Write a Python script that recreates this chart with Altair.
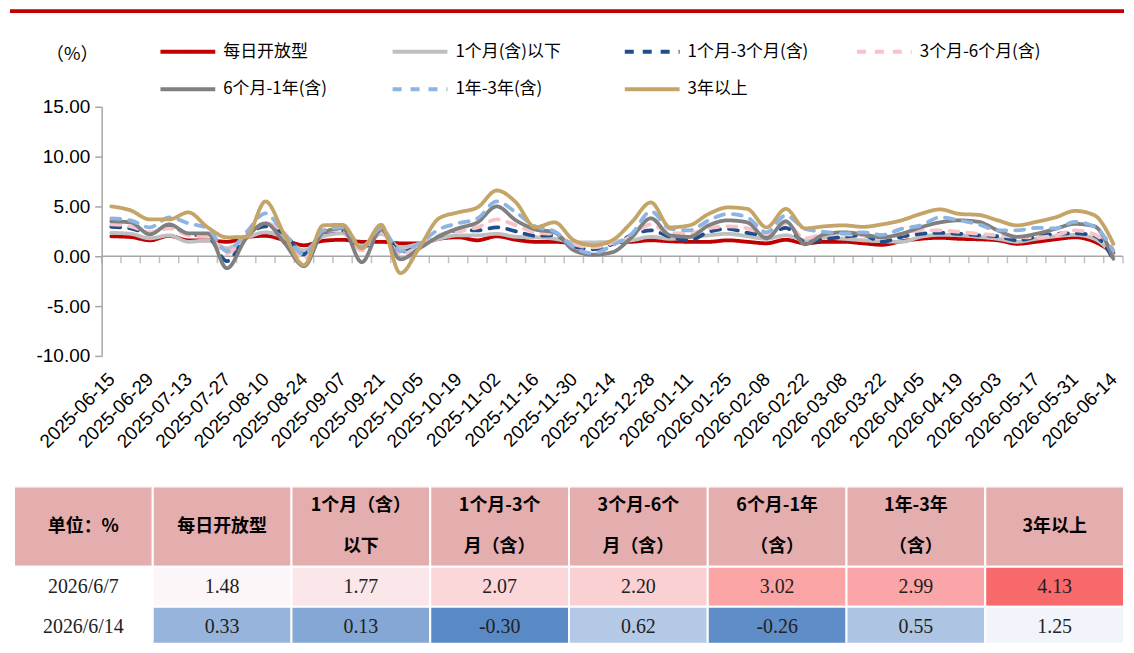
import json
import numpy as np
import pandas as pd
import altair as alt

# ---------------- data ----------------
dates = [
    "2025-06-15", "2025-06-22", "2025-06-29", "2025-07-06", "2025-07-13", "2025-07-20", "2025-07-27",
    "2025-08-03", "2025-08-10", "2025-08-17", "2025-08-24", "2025-08-31", "2025-09-07", "2025-09-14",
    "2025-09-21", "2025-09-28", "2025-10-05", "2025-10-12", "2025-10-19", "2025-10-26", "2025-11-02",
    "2025-11-09", "2025-11-16", "2025-11-23", "2025-11-30", "2025-12-07", "2025-12-14", "2025-12-21",
    "2025-12-28", "2026-01-04", "2026-01-11", "2026-01-18", "2026-01-25", "2026-02-01", "2026-02-08",
    "2026-02-15", "2026-02-22", "2026-03-01", "2026-03-08", "2026-03-15", "2026-03-22", "2026-03-29",
    "2026-04-05", "2026-04-12", "2026-04-19", "2026-04-26", "2026-05-03", "2026-05-10", "2026-05-17",
    "2026-05-24", "2026-05-31", "2026-06-07", "2026-06-14",
]

series_names = ["每日开放型", "1个月(含)以下", "1个月-3个月(含)", "3个月-6个月(含)",
                "6个月-1年(含)", "1年-3年(含)", "3年以上"]

s_daily = [2.0, 1.93, 1.6, 2.05, 1.6, 1.6, 1.45, 1.9, 2.05, 1.6, 1.1, 1.55, 1.65, 1.45, 1.45, 1.3, 1.3,
           1.75, 1.9, 1.6, 2.0, 1.65, 1.45, 1.45, 1.3, 1.25, 1.4, 1.45, 1.6, 1.5, 1.45, 1.45, 1.6, 1.45,
           1.3, 1.65, 1.3, 1.45, 1.45, 1.3, 1.15, 1.5, 1.75, 1.85, 1.75, 1.7, 1.6, 1.25, 1.45, 1.7, 1.9,
           1.48, 0.33]
s_1m = [2.35, 2.25, 1.8, 2.1, 1.45, 1.6, 0.8, 1.8, 2.4, 1.8, 0.6, 2.0, 2.3, 0.8, 2.25, 0.9, 1.25,
        1.75, 2.1, 2.1, 2.25, 1.95, 1.9, 1.75, 1.4, 1.4, 1.45, 1.6, 1.95, 1.75, 1.9, 2.1, 2.25, 2.0,
        1.75, 2.1, 1.6, 1.85, 1.75, 1.6, 1.5, 1.45, 1.95, 2.15, 2.1, 1.95, 1.75, 1.45, 1.75, 2.0, 2.15,
        1.77, 0.13]
s_1m3m = [2.95, 2.8, 2.3, 3.1, 2.2, 2.0, -0.5, 2.0, 3.0, 2.2, 0.2, 2.4, 2.6, 0.6, 2.6, 0.45, 1.0,
          2.0, 2.6, 2.6, 2.9, 2.5, 2.05, 2.1, 1.0, 0.7, 1.2, 2.1, 2.6, 1.95, 1.6, 2.45, 2.75, 2.35,
          2.1, 2.85, 1.45, 1.7, 1.95, 2.1, 1.45, 1.95, 2.25, 2.35, 2.25, 2.1, 2.0, 1.6, 1.95, 2.25, 2.3,
          2.07, -0.30]
s_3m6m = [3.2, 3.0, 2.4, 2.8, 2.1, 2.0, 0.3, 2.0, 3.3, 2.3, -0.3, 2.5, 2.6, 0.6, 2.4, 0.2, 1.0,
          2.1, 2.5, 2.9, 3.7, 3.1, 2.4, 2.2, 1.2, 0.9, 1.3, 2.0, 3.2, 2.3, 2.3, 2.8, 3.0, 2.8,
          2.2, 3.3, 1.8, 2.2, 2.2, 2.1, 2.0, 2.25, 2.6, 2.6, 2.45, 2.25, 2.1, 1.95, 1.9, 2.1, 2.6,
          2.20, 0.62]
s_6m1y = [3.5, 3.4, 2.2, 3.2, 2.3, 2.3, -1.2, 1.8, 3.3, 1.3, -1.0, 2.4, 2.8, -0.6, 2.7, -0.3, 0.8,
          2.0, 2.8, 3.4, 5.0, 3.6, 2.7, 2.4, 0.6, 0.15, 0.4, 1.9, 3.8, 2.1, 1.95, 3.1, 3.6, 3.4,
          1.8, 3.5, 1.2, 2.2, 2.4, 2.2, 1.9, 2.25, 2.9, 3.4, 3.6, 3.45, 2.6, 1.95, 2.25, 2.75, 3.25,
          3.02, -0.26]
s_1y3y = [3.8, 3.6, 2.9, 3.9, 3.3, 2.8, 0.5, 2.4, 4.3, 2.2, 0.2, 2.6, 2.9, 1.0, 2.8, 0.5, 1.3,
          2.7, 3.3, 3.8, 5.5, 4.4, 3.0, 2.5, 0.9, 0.3, 1.1, 2.25, 4.5, 2.75, 2.6, 3.6, 4.25, 3.9,
          2.4, 4.1, 2.75, 2.45, 2.3, 2.4, 2.15, 2.75, 3.1, 3.9, 3.6, 3.2, 2.6, 2.6, 2.85, 2.8, 3.45,
          2.99, 0.55]
s_3y = [5.0, 4.6, 3.7, 3.7, 4.4, 2.9, 1.9, 1.95, 5.5, 2.1, -0.9, 3.1, 3.15, 0.8, 3.15, -1.7, 0.9,
        3.8, 4.4, 4.9, 6.6, 5.4, 2.9, 3.4, 1.6, 1.1, 1.6, 3.4, 5.4, 2.9, 3.1, 4.25, 4.9, 4.75,
        2.9, 4.75, 2.8, 3.0, 3.1, 2.95, 3.2, 3.6, 4.25, 4.7, 4.25, 4.15, 3.6, 3.1, 3.45, 3.9, 4.55,
        4.13, 1.25]

series_values = [s_daily, s_1m, s_1m3m, s_3m6m, s_6m1y, s_1y3y, s_3y]
series_colors = ["#C00000", "#BFBFBF", "#1F4E8C", "#F8C2C7", "#808080", "#8DB4E2", "#C4A467"]
series_dashes = [[1, 0], [1, 0], [9, 9], [9, 9], [1, 0], [9, 9], [1, 0]]

y_ticks = [-10, -5, 0, 5, 10, 15]

# table
table_header = ["单位：%", "每日开放型", "1个月（含）\n以下", "1个月-3个\n月（含）", "3个月-6个\n月（含）",
                "6个月-1年\n（含）", "1年-3年\n（含）", "3年以上"]
table_rows = ["2026/6/7", "2026/6/14"]
table_vals = [
    [1.48, 1.77, 2.07, 2.20, 3.02, 2.99, 4.13],
    [0.33, 0.13, -0.30, 0.62, -0.26, 0.55, 1.25],
]

# ---------------- build ----------------
n = len(dates)
rows = []
for name, vals in zip(series_names, series_values):
    for i, v in enumerate(vals):
        rows.append({"idx": i, "date": dates[i], "series": name, "value": v})
df = pd.DataFrame(rows)

PW, PH = 1114, 250       # panel (starts at the table's left edge)
AXL = 88                 # where the y axis sits inside the panel
GREY = "#A6A6A6"

xscale = alt.Scale(domain=[-0.5, n - 0.5], range=[AXL, PW - 1], nice=False, zero=False)
yscale = alt.Scale(domain=[-10, 15], nice=False, zero=False)

x_axis = alt.Axis(
    values=list(range(0, n, 2)), labelExpr=json.dumps(dates) + "[datum.value]",
    labelAngle=-45, labelAlign="right", labelBaseline="middle", domain=False, ticks=False,
    tickSize=0, grid=False, labelPadding=20, labelFontSize=19, labelFont="Liberation Sans",
    labelColor="black", title=None, labelOverlap=False, labelBound=False, labelFlush=False)
y_axis = alt.Axis(
    values=y_ticks, labelExpr="replace(format(datum.value, '.2f'), '\u2212', '-')",
    grid=False, domainColor=GREY, domainWidth=1.5, offset=-AXL,
    tickColor=GREY, tickWidth=1.5, tickSize=7, labelPadding=5, labelFontSize=19,
    labelFont="Liberation Sans", labelColor="black", labelOverlap=False,
    title="（%）", titleAngle=0, titleX=-30, titleY=-52, titleAlign="center",
    titleBaseline="middle", titleFont="Noto Sans CJK SC", titleFontSize=18,
    titleFontWeight="normal", titleColor="black")

legend = alt.Legend(
    orient="none", legendX=145, legendY=-85, columns=4, direction="horizontal", title=None,
    symbolType="stroke", symbolSize=3025, symbolStrokeWidth=4,
    labelFont="Noto Sans CJK SC", labelFontSize=17, labelColor="black",
    columnPadding=40, rowPadding=-27, gridAlign="all", padding=0, labelOffset=6,
)

lines = alt.Chart(df).mark_line(strokeWidth=3.8, interpolate="monotone", strokeCap="round").encode(
    x=alt.X("idx:Q", scale=xscale, axis=x_axis),
    y=alt.Y("value:Q", scale=yscale, axis=y_axis),
    color=alt.Color("series:N", scale=alt.Scale(domain=series_names, range=series_colors), legend=legend),
    strokeDash=alt.StrokeDash("series:N", scale=alt.Scale(domain=series_names, range=series_dashes), legend=legend),
)

zero_line = alt.Chart(pd.DataFrame({"a": [-0.5], "b": [n - 0.5], "z": [0]})).mark_rule(
    color=GREY, strokeWidth=1.5).encode(
    x=alt.X("a:Q", scale=xscale, axis=x_axis), x2="b:Q", y=alt.Y("z:Q", scale=yscale, axis=y_axis))

bounds = [i - 0.5 for i in range(n + 1)]
week_ticks = alt.Chart(pd.DataFrame({"b": bounds, "z": [0] * len(bounds)})).mark_tick(
    orient="vertical", size=7, thickness=1.5, yOffset=3.5, color=GREY).encode(
    x=alt.X("b:Q", scale=xscale, axis=x_axis), y=alt.Y("z:Q", scale=yscale, axis=y_axis))

red_bar = alt.Chart(pd.DataFrame({"a": [0]})).mark_rule(color="#C00000", strokeWidth=4).encode(
    x=alt.value(-4), x2=alt.value(PW), y=alt.value(-96))

line_panel = alt.layer(red_bar, zero_line, week_ticks, lines).properties(width=PW, height=PH)

# table
ncol = len(table_header)
hdr = pd.DataFrame({"x0": list(range(ncol)), "x1": [c + 1 for c in range(ncol)],
                    "xc": [c + 0.5 for c in range(ncol)], "y0": 0, "y1": 2, "yc": 1.0,
                    "t": table_header})
hdr["multi"] = hdr["t"].str.contains("\n")
lab = pd.DataFrame({"x0": 0, "x1": 1, "xc": 0.5, "y0": [2 + r for r in range(len(table_rows))],
                    "y1": [3 + r for r in range(len(table_rows))],
                    "yc": [2.5 + r for r in range(len(table_rows))], "t": table_rows})
vrows = []
for r, vals in enumerate(table_vals):
    for c, v in enumerate(vals):
        vrows.append({"x0": c + 1, "x1": c + 2, "xc": c + 1.5, "y0": 2 + r, "y1": 3 + r,
                      "yc": 2.5 + r, "v": v, "t": f"{v:.2f}"})
vals_df = pd.DataFrame(vrows)
allv = np.array(table_vals).ravel()
cdomain = [float(allv.min()), float(np.median(allv)), float(allv.max())]

TW, TH = PW, 157
tx = alt.Scale(domain=[0, ncol], nice=False, zero=False)
ty = alt.Scale(domain=[0, 3.9], nice=False, zero=False, reverse=True)

def rect_enc(ch):
    return ch.encode(x=alt.X("x0:Q", scale=tx, axis=None), x2="x1:Q",
                     y=alt.Y("y0:Q", scale=ty, axis=None), y2="y1:Q")

def text_enc(ch):
    return ch.encode(x=alt.X("xc:Q", scale=tx, axis=None), y=alt.Y("yc:Q", scale=ty, axis=None),
                     text="t:N")

hdr_rect = rect_enc(alt.Chart(hdr).mark_rect(color="#E4ADAE", stroke="white", strokeWidth=2, clip=True))
lab_rect = rect_enc(alt.Chart(lab).mark_rect(color="white", stroke="white", strokeWidth=2, clip=True))
val_rect = rect_enc(alt.Chart(vals_df).mark_rect(stroke="white", strokeWidth=2, clip=True)).encode(
    color=alt.Color("v:Q", scale=alt.Scale(domain=cdomain, range=["#5A8AC6", "#FCFCFF", "#F8696B"],
                                           interpolate="rgb"), legend=None))

hdr_style = dict(font="Noto Sans CJK SC", fontSize=18, fontWeight="bold", color="black",
                 lineBreak="\n", lineHeight=42, baseline="middle")
hdr_text1 = text_enc(alt.Chart(hdr[~hdr["multi"]]).mark_text(**hdr_style))
hdr_text2 = text_enc(alt.Chart(hdr[hdr["multi"]]).mark_text(dy=-21, **hdr_style))
lab_text = text_enc(alt.Chart(lab).mark_text(font="Liberation Serif", fontSize=20, color="#222222",
                                             baseline="middle"))
val_text = text_enc(alt.Chart(vals_df).mark_text(font="Liberation Serif", fontSize=20, color="#222222",
                                                 baseline="middle"))

table = alt.layer(hdr_rect, lab_rect, val_rect, hdr_text1, hdr_text2, lab_text, val_text).properties(
    width=TW, height=TH)

chart = alt.vconcat(line_panel, table, spacing=35).properties(
    padding={"left": 0, "top": 0, "right": 0, "bottom": 0}
).configure_view(stroke=None).resolve_scale(color="independent", strokeDash="independent")

chart.save("out.html", embed_options={"renderer": "svg", "actions": False})
